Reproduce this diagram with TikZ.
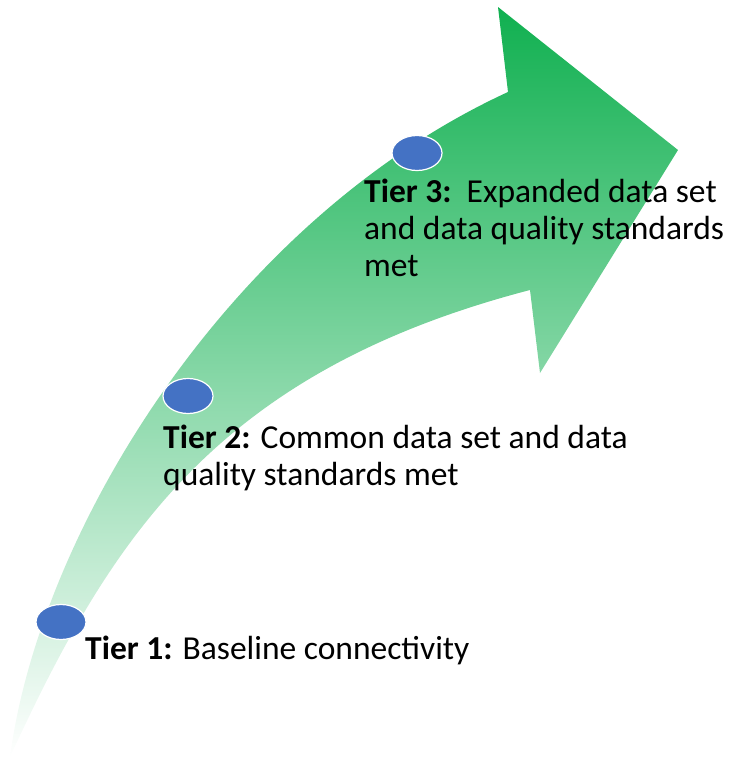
\documentclass[tikz,border=0pt]{standalone}
\usepackage{fontspec}
\setmainfont{Carlito}
\usetikzlibrary{shapes.geometric}
\definecolor{arrowgreen}{RGB}{16,176,80}
\definecolor{dotblue}{RGB}{68,114,196}
\tikzset{
  dot/.style={ellipse, fill=dotblue, draw=white, line width=1.2pt, inner sep=0pt, minimum width=50pt, minimum height=35pt},
  tiertext/.style={anchor=base west, inner sep=0pt, align=left, font=\fontsize{33.5}{37}\selectfont, text=black}
}
\begin{document}
\begin{tikzpicture}[x=1pt, y=-1pt]
\useasboundingbox (0,0) rectangle (743,764);
\shade[top color=arrowgreen, bottom color=white]
  (10,757) .. controls (40,530) and (230,220) .. (508,92)
  -- (498,7) -- (678,150) -- (540,373) -- (530,290)
  .. controls (215,372) and (110,540) .. (10,757) -- cycle;
\node[dot] (d1) at (61,622) {};
\node[dot] (d2) at (188,396) {};
\node[dot] (d3) at (417,153) {};
\node[tiertext] (t1) at (85,659) {\textbf{Tier 1:} Baseline connectivity};
\node[tiertext] (t2) at (163,485) {\textbf{Tier 2:} Common data set and data\\quality standards met};
\node[tiertext] (t3) at (364,276) {\textbf{Tier 3:}\hspace{0.45em}Expanded data set\\and data quality standards\\met};
\end{tikzpicture}
\end{document}
